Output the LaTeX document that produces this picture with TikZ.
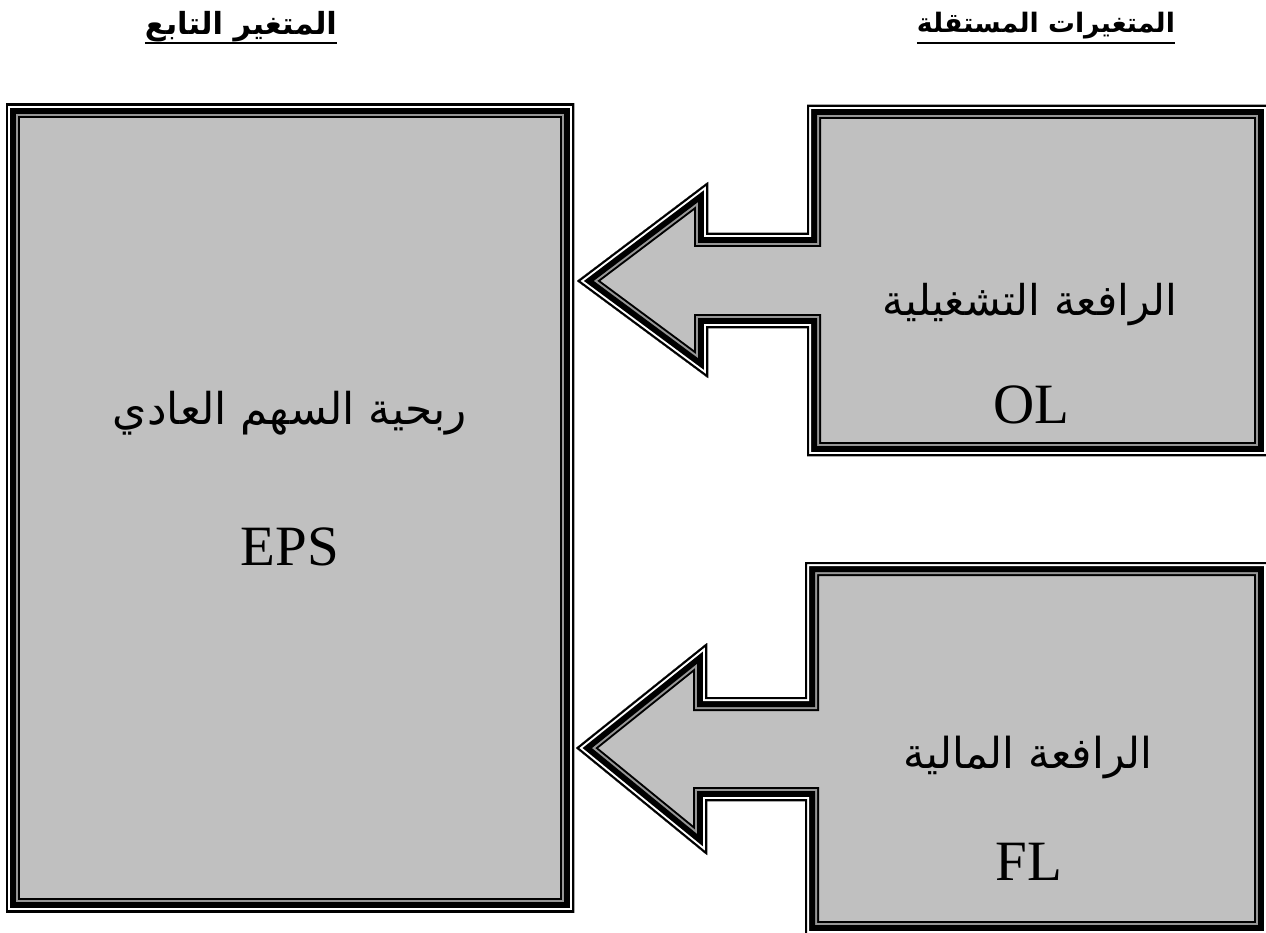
\documentclass[tikz,border=0pt]{standalone}
\usepackage{fontspec}
\usepackage{graphicx}
\setmainfont{Liberation Serif}
\newfontfamily\arabicfont[Script=Arabic]{DejaVu Sans}
\TeXXeTstate=1
\definecolor{boxfill}{RGB}{192,192,192}
\definecolor{midline}{RGB}{150,150,150}
\newcommand\layeredshape[1]{%
  \begin{scope}
    \clip #1;
    \fill[boxfill] #1;
    \draw[line width=28pt, black] #1;
    \draw[line width=24pt, midline] #1;
    \draw[line width=20pt, black] #1;
    \draw[line width=8pt, white] #1;
    \draw[line width=4pt, black] #1;
  \end{scope}}
\tikzset{
  latinlabel/.style={anchor=base, inner sep=0pt, font=\fontsize{57}{60}\selectfont},
  arlabel/.style={anchor=base, inner sep=0pt},
  header/.style={anchor=base, inner sep=0pt},
  underline/.style={line width=2pt}
}
\begin{document}
\begin{tikzpicture}[x=1pt,y=-1pt]
\useasboundingbox (0,0) rectangle (1266,933);
% left box (dependent variable)
\layeredshape{(6,104) rectangle (574,912)}
% top callout
\layeredshape{(807,105) -- (807,233) -- (708,233) -- (708,182) -- (577,281) -- (708,378) -- (708,328) -- (807,328) -- (807,456) -- (1268,456) -- (1268,105) -- cycle}
% bottom callout
\layeredshape{(805,562) -- (805,697) -- (707,697) -- (707,643) -- (576,748) -- (707,855) -- (707,801) -- (805,801) -- (805,935) -- (1268,935) -- (1268,562) -- cycle}
% headers
\node[header] (hdep) at (241,35) {\resizebox{192pt}{!}{\arabicfont\bfseries\beginR المتغير التابع\endR}};
\node[header] (hind) at (1046,33) {\resizebox{258pt}{!}{\arabicfont\bfseries\beginR المتغيرات المستقلة\endR}};
\draw[underline] (hdep.base west |- 0,43) -- (hdep.base east |- 0,43);
\draw[underline] (hind.base west |- 0,43) -- (hind.base east |- 0,43);
% left box texts
\node[arlabel] (eparab) at (290,424) {\resizebox{354pt}{!}{\arabicfont\beginR ربحية السهم العادي\endR}};
\node[latinlabel] (eps) at (290,565) {EPS};
% top callout texts
\node[arlabel] (olarab) at (1030,315) {\resizebox{295pt}{!}{\arabicfont\beginR الرافعة التشغيلية\endR}};
\node[latinlabel] (ol) at (1031,423) {OL};
% bottom callout texts
\node[arlabel] (flarab) at (1028,768) {\resizebox{249pt}{!}{\arabicfont\beginR الرافعة المالية\endR}};
\node[latinlabel] (fl) at (1029,880) {FL};
\end{tikzpicture}
\end{document}
